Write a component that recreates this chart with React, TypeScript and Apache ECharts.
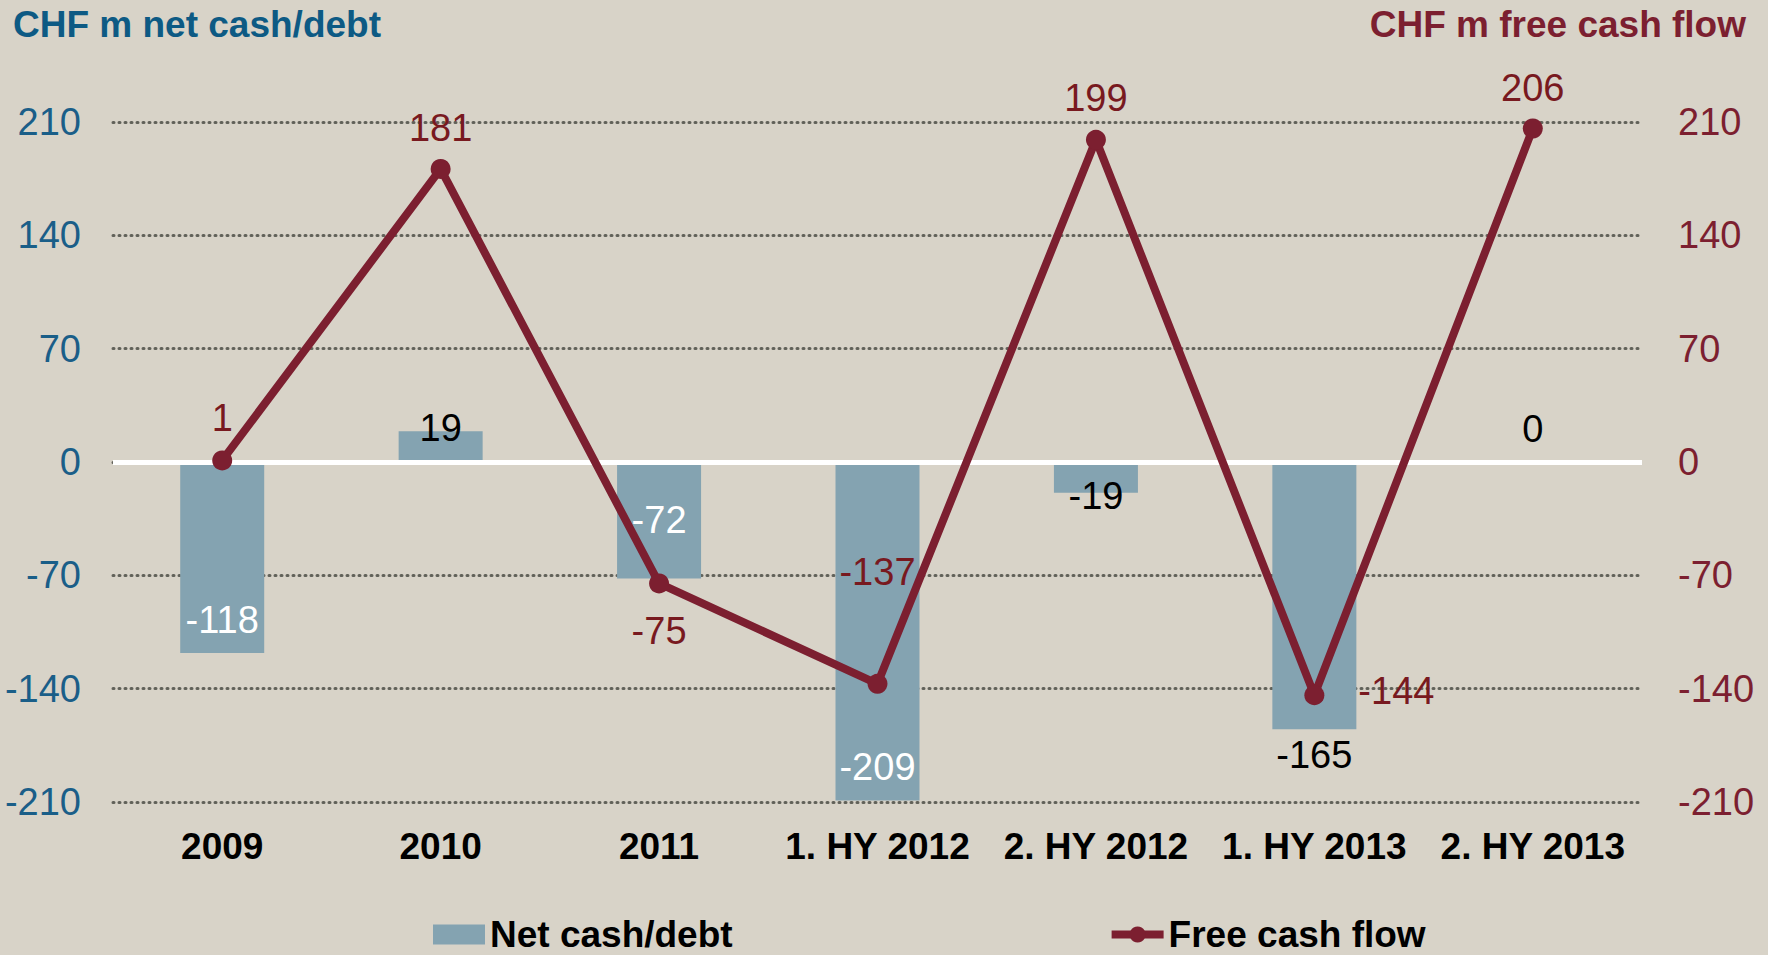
import React, { useEffect, useRef } from "react";
import * as echarts from "echarts";

const categories = ["2009", "2010", "2011", "1. HY 2012", "2. HY 2012", "1. HY 2013", "2. HY 2013"];
const netCash = [-118, 19, -72, -209, -19, -165, 0];
const freeCashFlow = [1, 181, -75, -137, 199, -144, 206];
const tickValues = { min: -210, max: 210, interval: 70 };

const FONT = "'Liberation Sans', Arial, Helvetica, sans-serif";
const BG = "#D8D3C8";
const BAR = "#84A3B1";
const MAROON = "#7C1F30";
const MAROON_TXT = "#78191F";
const BLUE = "#0D5A84";

export default function App() {
  const ref = useRef<HTMLDivElement>(null);
  useEffect(() => {
    if (!ref.current) return;
    const chart = echarts.init(ref.current, undefined, { renderer: "svg" });

    const barLabels: any[] = [
      { position: "insideBottom", distance: 14, color: "#fff" },
      { position: "inside", offset: [0, -19], color: "#000" },
      { position: "inside", color: "#fff" },
      { position: "insideBottom", distance: 14, color: "#fff" },
      { position: "inside", offset: [0, 19], color: "#000" },
      { position: "bottom", distance: 7, color: "#000" },
      { position: "top", distance: 14, color: "#000" },
    ];
    const lineLabels: any[] = [
      { position: "top", distance: 13 },
      { position: "top", distance: 12 },
      { position: "bottom", distance: 19 },
      { position: "top", distance: 83 },
      { position: "top", distance: 13 },
      { position: "right", distance: 34, offset: [0, -4] },
      { position: "top", distance: 11 },
    ];

    chart.setOption({
      animation: false,
      backgroundColor: BG,
      textStyle: { fontFamily: FONT },
      title: [
        {
          text: "CHF m net cash/debt",
          left: 13,
          top: 6,
          padding: 0,
          textStyle: { fontFamily: FONT, fontSize: 37, fontWeight: "bold", color: BLUE },
        },
        {
          text: "CHF m free cash flow",
          right: 22,
          top: 6,
          padding: 0,
          textStyle: { fontFamily: FONT, fontSize: 37, fontWeight: "bold", color: MAROON },
        },
      ],
      legend: {
        left: 433,
        top: 916,
        itemWidth: 52,
        itemHeight: 20,
        itemGap: 375,
        padding: 0,
        textStyle: { fontFamily: FONT, fontSize: 37, fontWeight: "bold", color: "#000" },
        data: [
          { name: "Net cash/debt", icon: "rect" },
          {
            name: "Free cash flow",
            itemStyle: { color: MAROON },
            lineStyle: { color: MAROON, width: 8 },
          },
        ],
      },
      grid: { left: 113, right: 126, top: 122, bottom: 153, containLabel: false },
      xAxis: {
        type: "category",
        data: categories,
        axisLine: { show: false },
        axisTick: { show: false },
        axisLabel: {
          margin: 26,
          fontFamily: FONT,
          fontSize: 37,
          fontWeight: "bold",
          color: "#000",
          interval: 0,
        },
      },
      yAxis: [
        {
          type: "value",
          min: tickValues.min,
          max: tickValues.max,
          interval: tickValues.interval,
          axisLine: { show: false },
          axisTick: { show: false },
          axisLabel: { margin: 32, fontFamily: FONT, fontSize: 38, color: "#1A5E88" },
          splitLine: {
            lineStyle: { color: "#62625A", width: 3, type: [1, 5], cap: "round" },
          },
        },
        {
          type: "value",
          min: tickValues.min,
          max: tickValues.max,
          interval: tickValues.interval,
          position: "right",
          axisLine: { show: false },
          axisTick: { show: false },
          axisLabel: { margin: 36, fontFamily: FONT, fontSize: 38, color: MAROON },
          splitLine: { show: false },
        },
      ],
      series: [
        {
          name: "Net cash/debt",
          type: "bar",
          yAxisIndex: 0,
          barWidth: 84,
          z: 2,
          itemStyle: { color: BAR },
          data: netCash.map((v, i) => ({
            value: v,
            label: { show: true, fontFamily: FONT, fontSize: 38, ...barLabels[i] },
          })),
          markLine: {
            silent: true,
            symbol: "none",
            label: { show: false },
            lineStyle: { color: "#FFFFFF", width: 5, type: "solid" },
            data: [{ yAxis: 0 }],
            z: 3,
          },
        },
        {
          name: "Free cash flow",
          type: "line",
          yAxisIndex: 1,
          z: 5,
          symbol: "circle",
          symbolSize: 20,
          lineStyle: { color: MAROON, width: 8 },
          itemStyle: { color: MAROON },
          data: freeCashFlow.map((v, i) => ({
            value: v,
            label: { show: true, fontFamily: FONT, fontSize: 38, color: MAROON_TXT, ...lineLabels[i] },
          })),
        },
      ],
    });
    return () => chart.dispose();
  }, []);
  return (
    <div
      ref={ref}
      style={{ position: "fixed", left: 0, top: 0, width: 1768, height: 955 }}
    />
  );
}
